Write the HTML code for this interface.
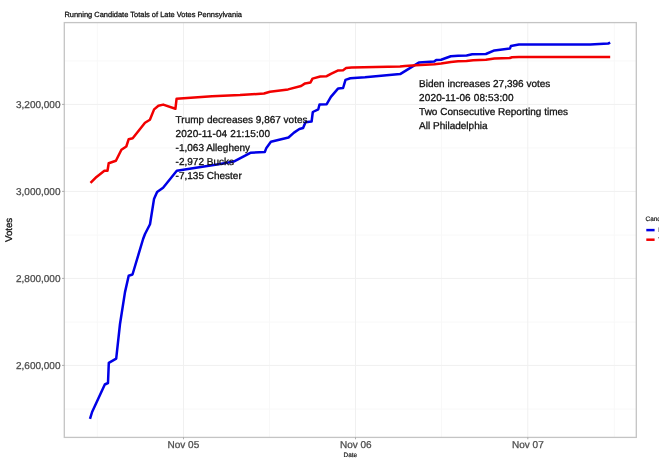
<!DOCTYPE html>
<html>
<head>
<meta charset="utf-8">
<title>Running Candidate Totals of Late Votes Pennsylvania</title>
<style>
  html, body { margin: 0; padding: 0; background: #ffffff; }
  body { width: 659px; height: 473px; overflow: hidden; font-family: "Liberation Sans", sans-serif; }
  svg { display: block; }
  text { font-family: "Liberation Sans", sans-serif; text-rendering: geometricPrecision; }
  .tick { font-size: 10px; fill: #4d4d4d; stroke: #4d4d4d; stroke-width: 0.28; }
  .ann  { font-size: 10px; fill: #111111; stroke: #111111; stroke-width: 0.3; }
  .ttl  { font-size: 7.47px; fill: #111111; stroke: #111111; stroke-width: 0.28; }
  .sm   { font-size: 6.4px; fill: #111111; stroke: #111111; stroke-width: 0.18; }
  .grid { stroke: #f0f0f0; stroke-width: 1; fill: none; }
  .gridm { stroke: #f8f8f8; stroke-width: 1; fill: none; }
</style>
</head>
<body>
<svg width="659" height="473" viewBox="0 0 659 473">
  <defs>
    <filter id="soft" filterUnits="userSpaceOnUse" x="0" y="0" width="659" height="473" color-interpolation-filters="sRGB"><feGaussianBlur stdDeviation="0.35"/></filter>
  </defs>
  <rect x="0" y="0" width="659" height="473" fill="#ffffff"/>

  <!-- minor gridlines -->
  <g class="gridm">
    <line x1="64.3" x2="636.3" y1="60.9" y2="60.9"/>
    <line x1="64.3" x2="636.3" y1="147.9" y2="147.9"/>
    <line x1="64.3" x2="636.3" y1="235" y2="235"/>
    <line x1="64.3" x2="636.3" y1="322" y2="322"/>
    <line x1="64.3" x2="636.3" y1="409" y2="409"/>
    <line y1="22.6" y2="437.4" x1="97.3" x2="97.3"/>
    <line y1="22.6" y2="437.4" x1="269.5" x2="269.5"/>
    <line y1="22.6" y2="437.4" x1="441.6" x2="441.6"/>
    <line y1="22.6" y2="437.4" x1="614.3" x2="614.3"/>
  </g>
  <!-- major gridlines -->
  <g class="grid">
    <line x1="64.3" x2="636.3" y1="104.4" y2="104.4"/>
    <line x1="64.3" x2="636.3" y1="191.4" y2="191.4"/>
    <line x1="64.3" x2="636.3" y1="278.4" y2="278.4"/>
    <line x1="64.3" x2="636.3" y1="365.4" y2="365.4"/>
    <line y1="22.6" y2="437.4" x1="183.5" x2="183.5"/>
    <line y1="22.6" y2="437.4" x1="355.5" x2="355.5"/>
    <line y1="22.6" y2="437.4" x1="527.8" x2="527.8"/>
  </g>

  <!-- series -->
  <polyline id="biden" fill="none" stroke="#0000e6" stroke-width="2.5" stroke-linejoin="round" stroke-linecap="butt"
    points="90.0,418.9 92.1,412 104.8,384.5 108,383 108.8,362.9 116.2,358.7 120.0,324 125.0,292.1 128.7,275.7 132.5,274.5 143.1,239.0 145.0,234 150.0,224.2 154.0,199.1 157.1,192.1 163.1,187.7 176.8,170.7 220.1,164.1 233.7,161.6 250.4,152.8 264.8,152.0 266.4,147.9 270.9,141.7 288.5,137.5 294.0,132.6 299.4,129.0 303.1,128.0 305.5,122.3 311.6,121.5 312.8,112.0 318.3,109.3 319.5,104.5 326.7,104.2 330.9,96.9 338.2,88.4 343.1,88.0 345.5,79.9 350.3,78.3 365,77.3 400.1,74.1 418.8,62.6 434.2,61.6 436.2,60.0 441.1,59.8 450.8,56.3 458.1,55.7 466.6,55.4 472.2,54.3 485.9,54.0 494.4,50.4 509.9,48.6 510.9,46.0 518.9,44.6 590.2,44.6 608.2,43.5 610.2,42.6"/>
  <polyline id="trump" fill="none" stroke="#f20000" stroke-width="2.5" stroke-linejoin="round" stroke-linecap="butt"
    points="90.5,182.9 96.5,176.9 104.4,170.8 107.5,170.8 108.7,163.2 115.9,160.7 121.4,149.8 126.3,146.5 128.7,139.2 132.7,138.2 145.0,122.8 149.9,119.7 154.1,109.4 158.4,105.8 163.2,104.6 175.4,108.8 176.6,98.7 212,96.3 240,95.1 264,93.5 270,91.7 288.1,89.4 301.1,86.0 305.1,83.4 310.5,82.4 312.5,78.6 320.2,76.5 326.7,76.2 330.9,73.8 338.2,70.4 343.1,70.2 346.1,68.1 351.6,67.5 400,66.6 405,66.0 416,65.2 434.5,64.3 441.1,63.6 450.9,61.9 458.1,61.3 466.5,61.0 473.2,60.2 485.9,59.7 494.4,58.5 509.9,58.0 512,57.3 518.9,57.1 610.2,57.1"/>

  <!-- annotations -->
  <g class="ann" filter="url(#soft)">
    <text x="175.6" y="123.0">Trump decreases 9,867 votes</text>
    <text x="175.6" y="137.0" style="letter-spacing:0.13px">2020-11-04 21:15:00</text>
    <text x="175.6" y="151.0">-1,063 Allegheny</text>
    <text x="175.6" y="165.0">-2,972 Bucks</text>
    <text x="175.6" y="179.0">-7,135 Chester</text>
    <text x="419.1" y="86.7">Biden increases 27,396 votes</text>
    <text x="419.1" y="100.7" style="letter-spacing:0.13px">2020-11-06 08:53:00</text>
    <text x="419.1" y="114.7">Two Consecutive Reporting times</text>
    <text x="419.1" y="128.7">All Philadelphia</text>
  </g>

  <!-- panel border -->
  <rect x="64.3" y="22.6" width="572" height="414.8" fill="none" stroke="#c4c4c4" stroke-width="1.3"/>

  <!-- axis ticks -->
  <g stroke="#9a9a9a" stroke-width="0.8">
    <line x1="62" x2="64.3" y1="104.4" y2="104.4"/>
    <line x1="62" x2="64.3" y1="191.4" y2="191.4"/>
    <line x1="62" x2="64.3" y1="278.4" y2="278.4"/>
    <line x1="62" x2="64.3" y1="365.4" y2="365.4"/>
    <line y1="437.4" y2="439.3" x1="183.5" x2="183.5"/>
    <line y1="437.4" y2="439.3" x1="355.5" x2="355.5"/>
    <line y1="437.4" y2="439.3" x1="527.8" x2="527.8"/>
  </g>

  <g filter="url(#soft)">
  <!-- y tick labels -->
  <g class="tick" text-anchor="end">
    <text x="60.5" y="107.6">3,200,000</text>
    <text x="60.5" y="194.6">3,000,000</text>
    <text x="60.5" y="281.6">2,800,000</text>
    <text x="60.5" y="368.6">2,600,000</text>
  </g>
  <!-- x tick labels -->
  <g class="tick" text-anchor="middle">
    <text x="183.4" y="448.1">Nov 05</text>
    <text x="355.8" y="448.1">Nov 06</text>
    <text x="527.9" y="448.1">Nov 07</text>
  </g>

  <!-- titles -->
  <text class="ttl" x="64.4" y="17.1">Running Candidate Totals of Late Votes Pennsylvania</text>
  <text class="sm" x="350.3" y="456.8" text-anchor="middle">Date</text>
  <text class="ann" style="fill:#111;font-size:9.7px" transform="translate(11.9,229.9) rotate(-90)" text-anchor="middle">Votes</text>

  <!-- legend -->
  <text class="sm" x="645.6" y="221">Candidate</text>
  <line x1="646.3" x2="654.6" y1="230.1" y2="230.1" stroke="#0000e6" stroke-width="2.5"/>
  <line x1="646.3" x2="654.6" y1="239.7" y2="239.7" stroke="#f20000" stroke-width="2.5"/>
  <text class="sm" x="658.2" y="232.4">Biden</text>
  <text class="sm" x="658.2" y="242">Trump</text>
  </g>
</svg>
</body>
</html>
